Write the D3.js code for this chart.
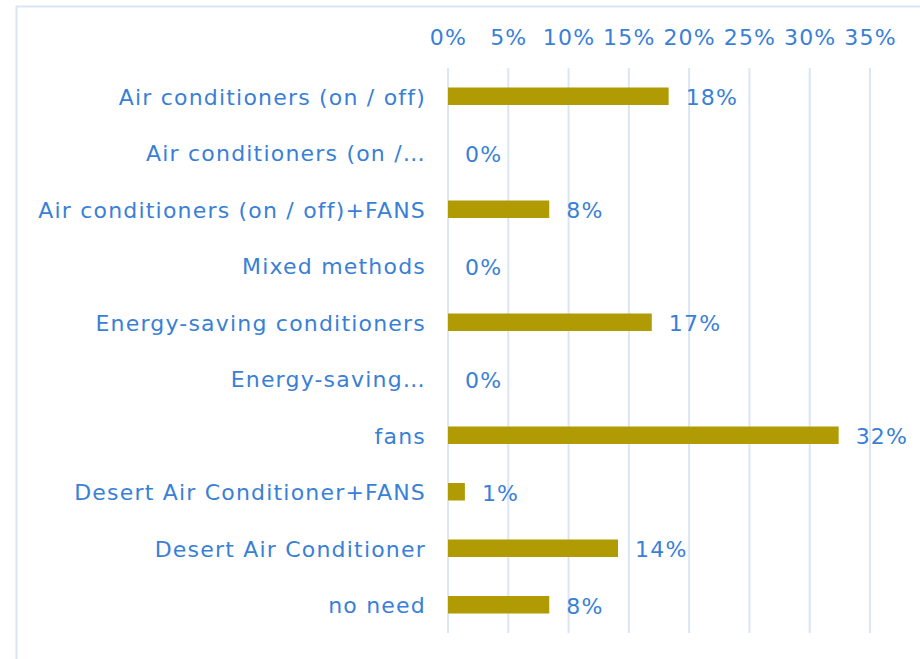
<!DOCTYPE html>
<html>
<head>
<meta charset="utf-8">
<script src="https://cdn.jsdelivr.net/npm/d3@7"></script>
<style>
  body { margin: 0; background: #fff; }
  svg { display: block; font-family: "DejaVu Sans", Verdana, sans-serif; }
</style>
</head>
<body>
<svg id="svg" width="920" height="659"></svg>
<script>
// chart data
var categories = ["Air conditioners (on / off)", "Air conditioners (on /\u2026",
	"Air conditioners (on / off)+FANS", "Mixed methods", "Energy-saving conditioners",
	"Energy-saving\u2026", "fans", "Desert Air Conditioner+FANS", "Desert Air Conditioner", "no need"];
var values = [18.3, 0, 8.4, 0, 16.9, 0, 32.4, 1.4, 14.1, 8.4];
var valueLabels = ["18%", "0%", "8%", "0%", "17%", "0%", "32%", "1%", "14%", "8%"];
var ticks = [0, 5, 10, 15, 20, 25, 30, 35];

var svg = d3.select("#svg"),
	margin = { left: 448, right: 50, top: 68, bottom: 26 },
	wsvg = +svg.attr("width"),
	hsvg = +svg.attr("height");

var textColor = "#3a7fd6",
	barColor = "#b09b04",
	gridColor = "#dae6f4";

var x = d3.scaleLinear().domain([0, 35]).range([margin.left, 870]);
var y = d3.scaleBand().domain(categories).range([margin.top, hsvg - margin.bottom]).paddingInner(0.69).paddingOuter(0.345);

// chart frame (only top and left edges visible)
svg.append("path")
	.attr("d", "M16.5," + hsvg + "V6.5H" + wsvg)
	.style("fill", "none")
	.style("stroke", gridColor)
	.style("stroke-width", 2);

// gridlines
svg.selectAll(".grid").data(ticks).enter().append("line")
	.classed("grid", true)
	.attr("x1", d => x(d)).attr("x2", d => x(d))
	.attr("y1", margin.top).attr("y2", hsvg - margin.bottom)
	.style("stroke", gridColor)
	.style("stroke-width", 2);

// top axis labels
var xAxis = d3.axisTop(x).tickValues(ticks).tickFormat(d => d + "%").tickSize(0).tickPadding(0);
var gx = svg.append("g").attr("transform", "translate(0,45)").call(xAxis);
gx.select(".domain").remove();
gx.selectAll("text")
	.style("fill", textColor)
	.style("font-size", "22px")
	.style("letter-spacing", "1.2px")
	.style("font-family", "DejaVu Sans");

// bars
svg.selectAll(".bar").data(values).enter().append("rect")
	.classed("bar", true)
	.attr("x", x(0))
	.attr("y", (d, i) => y(categories[i]))
	.attr("width", d => x(d) - x(0))
	.attr("height", y.bandwidth())
	.style("fill", barColor);

// category labels
svg.selectAll(".cat").data(categories).enter().append("text")
	.classed("cat", true)
	.attr("x", 426)
	.attr("y", d => y(d) + y.bandwidth() / 2)
	.attr("dy", "0.38em")
	.attr("text-anchor", "end")
	.style("fill", textColor)
	.style("font-size", "22px")
	.style("letter-spacing", "1.2px")
	.text(d => d);

// value labels
svg.selectAll(".val").data(values).enter().append("text")
	.classed("val", true)
	.attr("x", d => x(d) + 17)
	.attr("y", (d, i) => y(categories[i]) + y.bandwidth() / 2)
	.attr("dy", "0.4em")
	.style("fill", textColor)
	.style("font-size", "22px")
	.style("letter-spacing", "1.2px")
	.text((d, i) => valueLabels[i]);
</script>
</body>
</html>
